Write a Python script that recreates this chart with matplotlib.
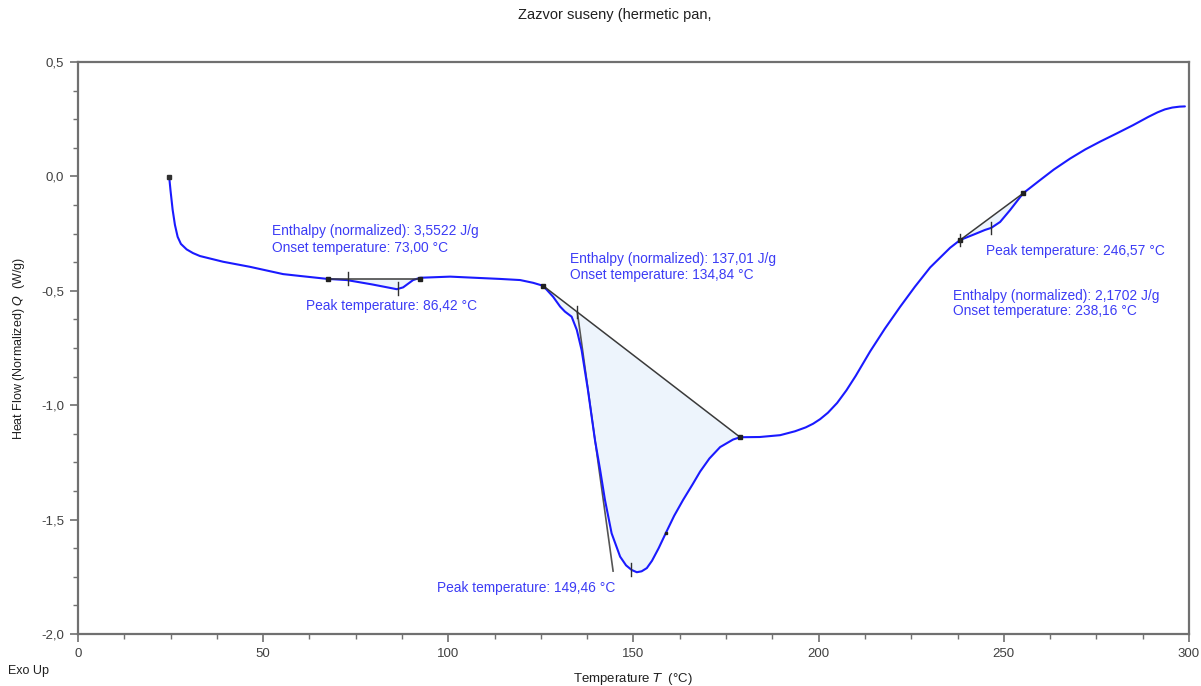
import numpy as np
import matplotlib
matplotlib.use("Agg")
import matplotlib.pyplot as plt
from matplotlib.ticker import MultipleLocator, FuncFormatter

plt.rcParams['font.family'] = ['Liberation Sans', 'DejaVu Sans']

# DSC curve: temperature (°C) and normalized heat flow (W/g)
temperature = [24.65, 24.98, 25.57, 26.19, 26.92, 27.8, 29.35, 31.05, 32.94, 39.2,
               46.4, 55.4, 59.9, 67.4, 72.6, 79.4, 86.1, 87.8, 90.5, 92.4,
               100.5, 108.5, 113.9, 119.4, 122.9, 125.6, 128.3, 130.2, 131.5, 133.3,
               134.7, 136.0, 137.7, 139.6, 141.0, 142.3, 144.1, 146.4, 148.0, 149.5,
               150.9, 152.2, 153.6, 155.0, 156.8, 158.7, 161.0, 163.4, 166.0, 168.0,
               170.5, 173.4, 176.9, 178.8, 184.1, 189.6, 193.6, 196.5, 198.5, 200.4,
               202.5, 205.0, 207.5, 210.0, 213.9, 217.9, 222.0, 226.0, 230.1, 235.5,
               238.2, 242.2, 244.9, 246.6, 249.0, 251.7, 255.2, 259.8, 263.5, 267.9,
               272.0, 276.0, 280.5, 284.9, 289.0, 291.5, 293.5, 295.5, 297.5, 298.9]
heat_flow = [-0.004, -0.059, -0.146, -0.212, -0.264, -0.295, -0.319, -0.335, -0.348, -0.373,
             -0.395, -0.427, -0.435, -0.448, -0.453, -0.472, -0.493, -0.485, -0.453, -0.443,
             -0.438, -0.444, -0.448, -0.453, -0.465, -0.478, -0.526, -0.569, -0.591, -0.613,
             -0.671, -0.759, -0.933, -1.152, -1.283, -1.414, -1.560, -1.662, -1.700, -1.720,
             -1.730, -1.726, -1.712, -1.680, -1.625, -1.560, -1.483, -1.414, -1.345, -1.290,
             -1.233, -1.183, -1.150, -1.140, -1.139, -1.131, -1.114, -1.097, -1.081, -1.061,
             -1.033, -0.990, -0.935, -0.872, -0.765, -0.665, -0.570, -0.482, -0.398, -0.312,
             -0.278, -0.252, -0.234, -0.225, -0.199, -0.147, -0.074, -0.016, 0.030, 0.078,
             0.118, 0.152, 0.188, 0.224, 0.260, 0.280, 0.293, 0.301, 0.305, 0.306]

# Peak integrations
onset_temps = [73.00, 134.84, 238.16]
peak_temps = [86.42, 149.46, 246.57]
enthalpies = [3.5522, 137.01, 2.1702]
baseline_T0 = [67.4, 125.6, 238.2]
baseline_Q0 = [-0.447, -0.478, -0.278]
baseline_T1 = [92.4, 178.8, 255.2]
baseline_Q1 = [-0.447, -1.140, -0.074]
# inflectional tangent of the main endotherm (end point)
tangent_end_T = 144.5
tangent_end_Q = -1.725
# extra analysis mark on the main peak
mark_T = 158.7

curve_blue = '#1a1aff'
text_blue = '#3c3cf5'
gray = '#707070'

fig = plt.figure(figsize=(12.01, 6.86), dpi=100)
ax = fig.add_axes([0.0649, 0.0758, 0.9251, 0.8338])

T = np.array(temperature)
Q = np.array(heat_flow)


def baseline_at(i, t):
    return np.interp(t, [baseline_T0[i], baseline_T1[i]], [baseline_Q0[i], baseline_Q1[i]])


# shaded integration areas
for i in range(3):
    m = (T >= baseline_T0[i]) & (T <= baseline_T1[i])
    ax.fill_between(T[m], Q[m], baseline_at(i, T[m]), color='#edf4fc', lw=0, zorder=1)

ax.plot(T, Q, color=curve_blue, lw=1.5, zorder=3, solid_capstyle='round', solid_joinstyle='round')

tick_h = 0.028
for i in range(3):
    ax.plot([baseline_T0[i], baseline_T1[i]], [baseline_Q0[i], baseline_Q1[i]],
            color='#3a3a3a', lw=1.1, zorder=4)
    ax.plot([baseline_T0[i], baseline_T1[i]], [baseline_Q0[i], baseline_Q1[i]],
            ls='none', marker='s', ms=2.2, color='#202020', zorder=5)
    q_on = baseline_at(i, onset_temps[i])
    ax.plot([onset_temps[i]] * 2, [q_on - tick_h, q_on + tick_h], color='#303030', lw=1.0, zorder=5)
    q_pk = np.interp(peak_temps[i], T, Q)
    ax.plot([peak_temps[i]] * 2, [q_pk - tick_h, q_pk + tick_h], color='#303030', lw=1.0, zorder=5)

# onset tangent of the main peak
q_on = baseline_at(1, onset_temps[1])
ax.plot([onset_temps[1], tangent_end_T], [q_on, tangent_end_Q], color='#555555', lw=1.2, zorder=2)
ax.plot([mark_T], [np.interp(mark_T, T, Q)], ls='none', marker='s', ms=2.0, color='#202020', zorder=5)
ax.plot([T[0]], [Q[0]], ls='none', marker='s', ms=2.2, color='#303030', zorder=5)


def num(v, d):
    return f"{v:.{d}f}".replace('.', ',')


fs = 9.9
txt = dict(color=text_blue, fontsize=fs, ha='left', va='center')
ax.text(52.4, -0.239, f"Enthalpy (normalized): {num(enthalpies[0], 4)} J/g", **txt)
ax.text(52.4, -0.313, f"Onset temperature: {num(onset_temps[0], 2)} °C", **txt)
ax.text(61.6, -0.566, f"Peak temperature: {num(peak_temps[0], 2)} °C", **txt)
ax.text(132.9, -0.360, f"Enthalpy (normalized): {num(enthalpies[1], 2)} J/g", **txt)
ax.text(132.9, -0.431, f"Onset temperature: {num(onset_temps[1], 2)} °C", **txt)
ax.text(96.9, -1.799, f"Peak temperature: {num(peak_temps[1], 2)} °C", **txt)
ax.text(245.2, -0.326, f"Peak temperature: {num(peak_temps[2], 2)} °C", **txt)
ax.text(236.3, -0.523, f"Enthalpy (normalized): {num(enthalpies[2], 4)} J/g", **txt)
ax.text(236.3, -0.588, f"Onset temperature: {num(onset_temps[2], 2)} °C", **txt)

ax.set_xlim(0, 300)
ax.set_ylim(-2.0, 0.5)
ax.xaxis.set_major_locator(MultipleLocator(50))
ax.xaxis.set_minor_locator(MultipleLocator(12.5))
ax.yaxis.set_major_locator(MultipleLocator(0.5))
ax.yaxis.set_minor_locator(MultipleLocator(0.125))
ax.xaxis.set_major_formatter(FuncFormatter(lambda v, p: f"{v:.0f}"))
ax.yaxis.set_major_formatter(FuncFormatter(lambda v, p: num(v, 1)))

for s in ax.spines.values():
    s.set_color(gray)
    s.set_linewidth(1.6)
ax.tick_params(which='major', direction='out', length=6, width=1.2, color=gray,
               labelsize=9.5, labelcolor='#404040', pad=4)
ax.tick_params(which='minor', direction='out', length=3.5, width=1.0, color=gray)

# axis titles placed in figure coordinates
fig.text(633 / 1201, 1 - 679 / 686, r"Temperature $\it{T}$  (°C)", fontsize=9.5,
         color='#202020', ha='center', va='center')
fig.text(19 / 1201, 1 - 348 / 686, r"Heat Flow (Normalized) $\it{Q}$  (W/g)", fontsize=9,
         color='#202020', ha='center', va='center', rotation=90)

fig.text(615 / 1201, 1 - 15 / 686, "Zazvor suseny (hermetic pan,", fontsize=10.5,
         color='#202020', ha='center', va='center')
fig.text(8 / 1201, 1 - 671 / 686, "Exo Up", fontsize=9, color='#202020', ha='left', va='center')

fig.savefig("out.png", dpi=100)
